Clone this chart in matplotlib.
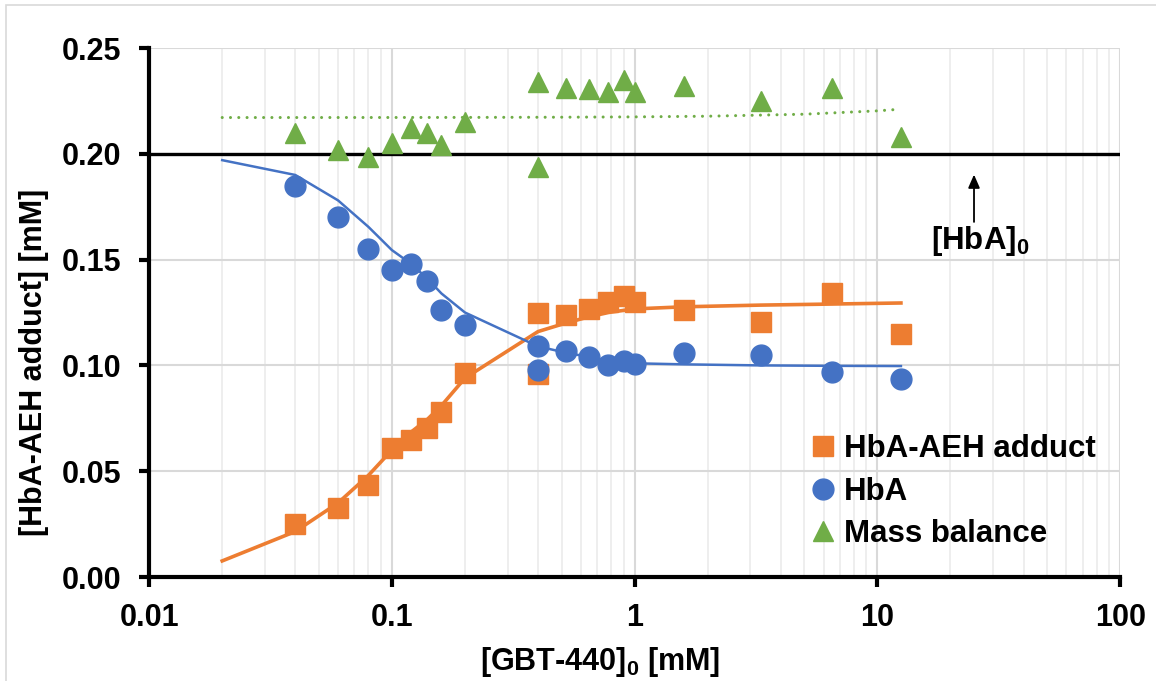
import numpy as np
import matplotlib
matplotlib.use('Agg')
import matplotlib.pyplot as plt
from matplotlib.ticker import FuncFormatter, LogLocator, MultipleLocator
from matplotlib.patches import Rectangle

plt.rcParams['font.family'] = ['Liberation Sans', 'DejaVu Sans']
plt.rcParams['font.weight'] = 'bold'
plt.rcParams['axes.labelweight'] = 'bold'
plt.rcParams['mathtext.fontset'] = 'custom'
plt.rcParams['mathtext.rm'] = 'Liberation Sans:bold'
plt.rcParams['mathtext.bf'] = 'Liberation Sans:bold'
plt.rcParams['mathtext.default'] = 'bf'

# measured points, [GBT-440]0 in mM
gbt = [0.04, 0.06, 0.08, 0.1, 0.12, 0.14, 0.16, 0.2, 0.4, 0.4,
       0.52, 0.65, 0.78, 0.9, 1.0, 1.6, 3.3, 6.5, 12.5]
adduct = [0.025, 0.0326, 0.0435, 0.061, 0.0647, 0.0704, 0.078, 0.0964, 0.125, 0.096,
          0.124, 0.1267, 0.130, 0.133, 0.130, 0.126, 0.1205, 0.134, 0.115]
hba = [0.185, 0.170, 0.155, 0.145, 0.148, 0.140, 0.126, 0.119, 0.109, 0.098,
       0.107, 0.104, 0.100, 0.102, 0.1006, 0.106, 0.105, 0.097, 0.0936]
mass_balance = [0.210, 0.2018, 0.1985, 0.205, 0.212, 0.210, 0.204, 0.215, 0.234, 0.194,
                0.231, 0.2306, 0.229, 0.235, 0.229, 0.232, 0.225, 0.231, 0.208]

# model curves
fit_x = [0.02, 0.04, 0.06, 0.08, 0.1, 0.12, 0.14, 0.16, 0.2, 0.4,
         0.52, 0.65, 0.78, 0.9, 1.0, 1.6, 3.3, 6.5, 12.5]
fit_adduct = [0.0076, 0.0215, 0.035, 0.048, 0.060, 0.0685, 0.0745, 0.081, 0.094, 0.116,
              0.120, 0.123, 0.125, 0.126, 0.1267, 0.1277, 0.1285, 0.129, 0.1295]
fit_hba = [0.197, 0.190, 0.178, 0.1655, 0.1545, 0.148, 0.141, 0.134, 0.125, 0.109,
           0.106, 0.104, 0.102, 0.1013, 0.101, 0.1005, 0.100, 0.0998, 0.0997]

hba0 = 0.20

orange = '#ED7D31'
blue = '#4472C4'
green = '#70AD47'

fig = plt.figure(figsize=(11.56, 6.81), dpi=100)
ax = fig.add_axes([0.129, 0.1527, 0.84, 0.7768])
# chart-area frame, right and bottom edges fall outside the image
fig.patches.append(Rectangle((0.005, -0.1), 1.2, 1.092, transform=fig.transFigure,
                             fill=False, ec='#d9d9d9', lw=1.2))

ax.set_xscale('log')
ax.set_xlim(0.01, 100)
ax.set_ylim(0, 0.25)

# gridlines
ax.xaxis.set_major_locator(LogLocator(base=10))
ax.xaxis.set_minor_locator(LogLocator(base=10, subs=np.arange(2, 10)))
ax.yaxis.set_major_locator(MultipleLocator(0.05))
ax.grid(True, which='major', axis='both', color='#d9d9d9', lw=1.5)
ax.grid(True, which='minor', axis='x', color='#ebebeb', lw=1.2)
ax.set_axisbelow(True)

# mass balance trendline (least squares, linear in x)
slope, icpt = np.polyfit(gbt, mass_balance, 1)
tx = np.array([0.02, 0.05, 0.1, 0.2, 0.5, 1, 2, 5, 10, 12.5])
ax.plot(tx, icpt + slope * tx, color=green, lw=2.2, ls=(0, (0.01, 2.7)),
        dash_capstyle='round')

ax.axhline(hba0, color='black', lw=2.4, zorder=2)

ax.plot(fit_x, fit_adduct, color=orange, lw=2.6, zorder=3)
ax.plot(fit_x, fit_hba, color=blue, lw=1.8, zorder=3)

ax.plot(gbt, adduct, ls='none', marker='s', ms=14, color=orange,
        label='HbA-AEH adduct', zorder=4)
ax.plot(gbt, hba, ls='none', marker='o', ms=15, color=blue,
        label='HbA', zorder=5)
ax.plot(gbt, mass_balance, ls='none', marker='^', ms=15, color=green,
        label='Mass balance', zorder=4)

ax.annotate('', xy=(25, 0.1915), xytext=(25, 0.1665),
            arrowprops=dict(arrowstyle='-|>,head_length=0.8,head_width=0.35',
                            color='black', lw=1.3))
ax.text(26.5, 0.1668, '[HbA]$_0$', ha='center', va='top', fontsize=22.5)

ax.xaxis.set_major_formatter(FuncFormatter(lambda v, p: '%g' % v))
ax.yaxis.set_major_formatter(FuncFormatter(lambda v, p: '%.2f' % v))
ax.tick_params(axis='both', which='major', length=7, width=3, labelsize=22,
               direction='out', color='black')
ax.tick_params(axis='y', pad=13)
ax.tick_params(axis='x', pad=12)
ax.tick_params(axis='x', which='minor', length=0)

for s in ['top', 'right']:
    ax.spines[s].set_visible(False)
for s in ['left', 'bottom']:
    ax.spines[s].set_linewidth(3)
    ax.spines[s].set_color('black')

ax.set_xlabel('[GBT-440]$_0$ [mM]', fontsize=22)
ax.set_ylabel('[HbA-AEH adduct] [mM]', fontsize=22)
ax.xaxis.set_label_coords(0.464, -0.128)
ax.yaxis.set_label_coords(-0.103, 0.406)

leg = ax.legend(loc='upper left', bbox_to_anchor=(0.683, 0.27), frameon=False,
                fontsize=22.5, handlelength=0.7, handletextpad=0.3,
                labelspacing=0.4, borderpad=0, borderaxespad=0)

fig.savefig('out.png', dpi=100)
